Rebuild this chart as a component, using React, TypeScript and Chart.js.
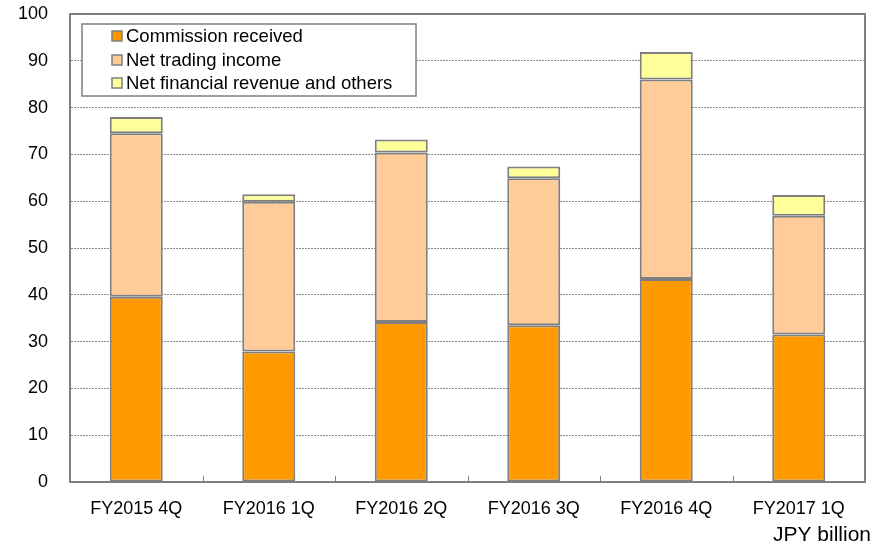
import React, { useEffect, useRef } from "react";
import { Chart, registerables } from "chart.js";

Chart.register(...registerables);

const categories = ["FY2015 4Q", "FY2016 1Q", "FY2016 2Q", "FY2016 3Q", "FY2016 4Q", "FY2017 1Q"];
const commissionReceived = [39.6, 27.9, 34.2, 33.5, 43.4, 31.5];
const netTradingIncome = [34.9, 32.0, 36.2, 31.4, 42.6, 25.4];
const netFinancialRevenue = [3.5, 1.6, 2.8, 2.5, 5.9, 4.4];
const seriesLabels = ["Commission received", "Net trading income", "Net financial revenue and others"];
const seriesColors = ["#FF9900", "#FFCC99", "#FFFF99"];
const unitLabel = "JPY billion";

const FONT = "'Liberation Sans', Arial, sans-serif";
const GRAY = "#7f7f7f";

const framePlugin = {
  id: "frame",
  beforeDatasetsDraw(chart: any) {
    const { ctx, chartArea } = chart;
    const xs = chart.scales.x;
    ctx.save();
    ctx.strokeStyle = GRAY;
    ctx.lineWidth = 1;
    const n = categories.length;
    for (let i = 1; i < n; i++) {
      const x = Math.round((xs.getPixelForValue(i - 1) + xs.getPixelForValue(i)) / 2) + 0.5;
      ctx.beginPath();
      ctx.moveTo(x, chartArea.bottom);
      ctx.lineTo(x, chartArea.bottom - 6);
      ctx.stroke();
    }
    ctx.restore();
  },
  afterDatasetsDraw(chart: any) {
    const { ctx, chartArea } = chart;
    ctx.save();
    ctx.strokeStyle = GRAY;
    ctx.lineWidth = 2;
    ctx.strokeRect(chartArea.left, chartArea.top, chartArea.right - chartArea.left, chartArea.bottom - chartArea.top);
    // legend box
    const bx = 82, by = 24, bw = 334, bh = 72;
    ctx.fillStyle = "#ffffff";
    ctx.fillRect(bx, by, bw, bh);
    ctx.lineWidth = 1.5;
    ctx.strokeStyle = GRAY;
    ctx.strokeRect(bx, by, bw, bh);
    ctx.font = `18.5px ${FONT}`;
    ctx.textBaseline = "middle";
    ctx.textAlign = "left";
    const rows = [36, 60, 83];
    chart.data.datasets.forEach((ds: any, i: number) => {
      const y = rows[i];
      ctx.fillStyle = ds.backgroundColor;
      ctx.fillRect(112, y - 5, 10, 10);
      ctx.strokeStyle = GRAY;
      ctx.lineWidth = 1.5;
      ctx.strokeRect(112, y - 5, 10, 10);
      ctx.fillStyle = "#000";
      ctx.fillText(ds.label, 126, y + 1);
    });
    // unit label
    ctx.font = `21px ${FONT}`;
    ctx.textAlign = "right";
    ctx.textBaseline = "alphabetic";
    ctx.fillStyle = "#000";
    ctx.fillText(unitLabel, 871, 541);
    ctx.restore();
  },
};

export default function App() {
  const ref = useRef<HTMLCanvasElement>(null);
  useEffect(() => {
    if (!ref.current) return;
    const values = [commissionReceived, netTradingIncome, netFinancialRevenue];
    const chart = new Chart(ref.current, {
      type: "bar",
      data: {
        labels: categories,
        datasets: values.map((v, i) => ({
          label: seriesLabels[i],
          data: v,
          backgroundColor: seriesColors[i],
          borderColor: GRAY,
          borderWidth: 2,
          borderSkipped: false,
          categoryPercentage: 1,
          barPercentage: 0.4,
        })),
      },
      options: {
        responsive: false,
        animation: false,
        layout: { padding: { top: 14, right: 19, left: 0, bottom: 0 } },
        plugins: { legend: { display: false }, tooltip: { enabled: false } },
        scales: {
          x: {
            stacked: true,
            afterFit(s: any) {
              s.height = 64;
              s.paddingLeft = 0;
              s.paddingRight = 0;
            },
            grid: { display: false },
            border: { display: true, color: GRAY, width: 2 },
            ticks: { color: "#000", font: { family: FONT, size: 18 }, padding: 8 },
          },
          y: {
            stacked: true,
            min: 0,
            max: 100,
            afterFit(s: any) {
              s.width = 70;
              s.paddingTop = 0;
              s.paddingBottom = 0;
            },
            ticks: { stepSize: 10, color: "#000", font: { family: FONT, size: 18 }, padding: 22 },
            grid: { color: "#8c8c8c", lineWidth: 1, drawTicks: false },
            border: { display: true, color: GRAY, width: 2, dash: [2, 1] },
          },
        },
      },
      plugins: [framePlugin],
    });
    return () => chart.destroy();
  }, []);
  return (
    <div style={{ position: "fixed", left: 0, top: 0, width: 884, height: 546, background: "#fff" }}>
      <canvas ref={ref} width={884} height={546} style={{ width: 884, height: 546, display: "block" }} />
    </div>
  );
}
